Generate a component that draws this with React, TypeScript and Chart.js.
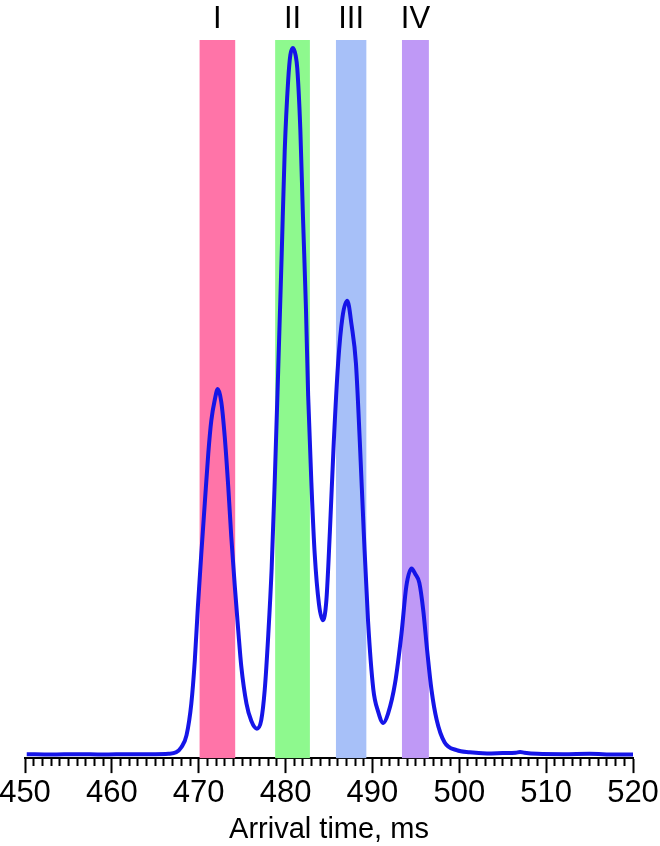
import { Chart, registerables } from "chart.js"
import { useEffect, useRef } from "react"

// arrival time (ms) and detector signal (arb. units, 0..100)
const times = [
  450.2, 453, 456, 459, 462, 465, 466.5, 467.4, 468.0, 468.6,
  469.15, 469.55, 469.9, 470.3, 470.7, 471.1, 471.45, 471.85, 472.2, 472.6,
  473.0, 473.4, 473.75, 474.15, 474.55, 474.9, 475.5, 476.05, 476.7, 477.2,
  477.6, 478.0, 478.4, 478.75, 479.15, 479.55, 479.9, 480.3, 480.55, 480.85,
  481.15, 481.35, 481.7, 482.0, 482.35, 482.6, 483.0, 483.35, 483.85, 484.3,
  484.7, 485.1, 485.55, 486.05, 486.55, 487.1, 487.6, 488.1, 488.55, 489.0,
  489.5, 490.1, 490.65, 491.25, 491.8, 492.6, 493.35, 493.9, 494.5, 494.95,
  495.4, 495.85, 496.3, 496.8, 497.4, 498.3, 499.7, 501.2, 503.2, 505,
  506.5, 507, 507.5, 509, 512, 515, 518, 520,
]
const signal = [
  0.55, 0.5, 0.55, 0.5, 0.55, 0.55, 0.6, 0.8, 1.5, 3.2,
  7.6, 13.6, 21, 28.5, 35.5, 42.4, 47, 49.9, 51.4, 49.6,
  44.7, 37.8, 30.8, 24, 17.8, 12.8, 7.6, 5.2, 4.1, 5.3,
  9.5, 17, 26.5, 38.5, 54, 70, 84.5, 94.4, 97.9, 98.9,
  97.9, 96, 87.5, 75.5, 62.5, 50.5, 37.5, 28.5, 21.4, 19.2,
  22, 31.5, 44, 55, 61.4, 63.7, 60.3, 55, 44, 31.5,
  19, 9.6, 6.5, 4.9, 6.2, 10.4, 17.4, 23.9, 26.4, 25.6,
  24.4, 20.6, 15, 9.5, 5.3, 2.2, 1.1, 0.8, 0.65, 0.7,
  0.75, 0.85, 0.75, 0.6, 0.55, 0.6, 0.5, 0.5,
]

// highlighted arrival-time windows
const bandLabels = ["I", "II", "III", "IV"]
const bandStart = [470.1, 478.8, 485.8, 493.4]
const bandEnd = [474.2, 482.8, 489.3, 496.5]
const bandColors = ["#ff74a8", "#8ef98e", "#a7c0f8", "#bf99f6"]

const bandsPlugin = {
  id: "bands",
  beforeDatasetsDraw(chart: any) {
    const { ctx, chartArea, scales } = chart
    ctx.save()
    bandStart.forEach((s, i) => {
      const x1 = scales.x.getPixelForValue(s)
      const x2 = scales.x.getPixelForValue(bandEnd[i])
      ctx.fillStyle = bandColors[i]
      ctx.fillRect(x1, chartArea.top, x2 - x1, chartArea.bottom - chartArea.top)
    })
    ctx.restore()
  },
  afterDraw(chart: any) {
    const { ctx, scales } = chart
    ctx.save()
    ctx.fillStyle = "#000"
    ctx.font = "31px 'Liberation Sans', Arial, sans-serif"
    ctx.textAlign = "center"
    ctx.textBaseline = "middle"
    bandLabels.forEach((l, i) => {
      const x = scales.x.getPixelForValue((bandStart[i] + bandEnd[i]) / 2)
      ctx.fillText(l, x, 19)
    })
    ctx.restore()
  },
}

const App = () => {
  const chartRef = useRef<HTMLCanvasElement>(null)

  useEffect(() => {
    document.body.style.margin = "0"
    Chart.register(...registerables)
    if (!chartRef.current) return
    const ctx = chartRef.current.getContext("2d")
    if (!ctx) return

    const c = new Chart(ctx, {
      type: "line",
      data: {
        datasets: [{
          data: times.map((t, i) => ({ x: t, y: signal[i] })),
          borderColor: "#1515e8",
          borderWidth: 4,
          pointRadius: 0,
          cubicInterpolationMode: "monotone",
          fill: false,
        }],
      },
      options: {
        responsive: false,
        animation: false,
        layout: { padding: { left: 25, right: 27, top: 40, bottom: 0 } },
        plugins: { legend: { display: false }, tooltip: { enabled: false } },
        scales: {
          x: {
            type: "linear",
            min: 450,
            max: 520,
            // end labels may hang over the plot edges
            afterFit: (scale: any) => {
              scale.paddingLeft = 0
              scale.paddingRight = 0
            },
            border: { display: true, color: "#000", width: 2 },
            grid: {
              drawOnChartArea: false,
              tickLength: 15,
              tickWidth: 2,
              tickColor: "#000",
              tickBorderDash: (c: any) => (c.tick && Math.round(c.tick.value) % 10 === 0 ? [] : [7, 100]),
            },
            ticks: {
              stepSize: 1,
              autoSkip: false,
              maxRotation: 0,
              padding: 5,
              color: "#000",
              font: { size: 31, family: "'Liberation Sans', Arial, sans-serif", lineHeight: 1.0 },
              callback: (v: any) => (Math.round(v) % 10 === 0 ? String(v) : ""),
            },
            title: {
              display: true,
              text: "Arrival time, ms",
              color: "#000",
              padding: { top: 0, bottom: 0 },
              font: { size: 29, family: "'Liberation Sans', Arial, sans-serif", lineHeight: 1.1 },
            },
          },
          y: { display: false, min: 0, max: 100 },
        },
      },
      plugins: [bandsPlugin],
    })
    return () => {
      c.destroy()
    }
  }, [])

  return (
    <div style={{ width: 660, height: 846 }}>
      <canvas ref={chartRef} width={660} height={846} style={{ display: "block" }}></canvas>
    </div>
  )
}

export default App
